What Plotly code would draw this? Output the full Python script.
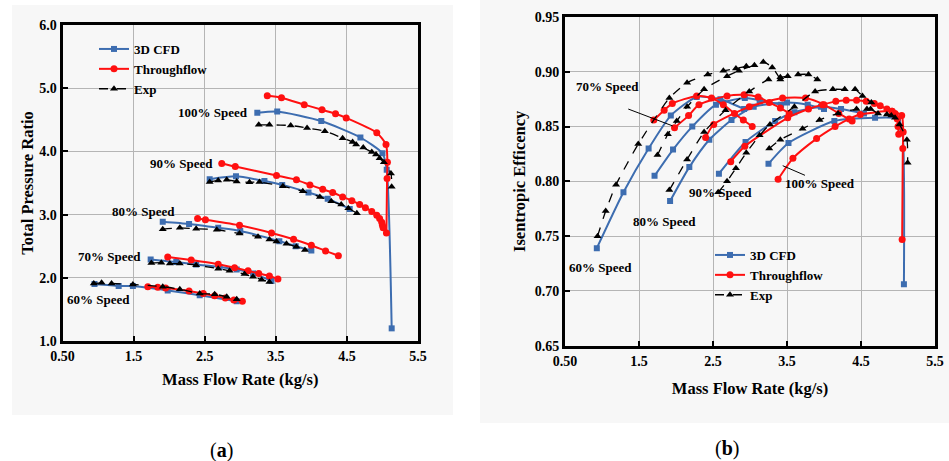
import plotly.graph_objects as go

# ---------------- Panel (a): total pressure ratio ----------------
speeds = ["60%", "70%", "80%", "90%", "100%"]

cfd_pr_x = {
    "60%": [0.95, 1.29, 1.49, 1.98, 2.43, 2.95],
    "70%": [1.74, 2.10, 2.38, 2.71, 2.95, 3.18, 3.44],
    "80%": [1.91, 2.28, 2.69, 3.00, 3.55, 3.78, 4.00],
    "90%": [2.57, 2.94, 3.34, 3.59, 3.96, 4.23, 4.54],
    "100%": [3.24, 3.52, 4.14, 4.69, 5.00, 5.06, 5.13],
}
cfd_pr_y = {
    "60%": [1.90, 1.87, 1.87, 1.80, 1.725, 1.63],
    "70%": [2.29, 2.25, 2.21, 2.17, 2.13, 2.07, 1.95],
    "80%": [2.885, 2.85, 2.79, 2.74, 2.58, 2.50, 2.43],
    "90%": [3.56, 3.605, 3.53, 3.47, 3.35, 3.25, 3.09],
    "100%": [4.61, 4.63, 4.48, 4.22, 3.97, 3.71, 1.20],
}
tf_pr_x = {
    "60%": [1.70, 1.84, 1.95, 2.28, 2.48, 2.64, 2.79, 2.91, 3.03],
    "70%": [1.98, 2.31, 2.69, 2.92, 3.11, 3.26, 3.41, 3.53],
    "80%": [2.40, 2.51, 2.99, 3.44, 3.75, 4.00, 4.20, 4.38],
    "90%": [2.74, 2.93, 3.51, 3.79, 3.98, 4.16, 4.30, 4.44, 4.57, 4.68, 4.76, 4.85, 4.92, 4.96, 4.99, 5.00, 5.01],
    "100%": [3.38, 3.58, 3.90, 4.15, 4.34, 4.49, 4.92, 5.05, 5.07, 5.065, 5.056],
}
tf_pr_y = {
    "60%": [1.86, 1.85, 1.84, 1.79, 1.75, 1.715, 1.68, 1.65, 1.63],
    "70%": [2.33, 2.28, 2.215, 2.16, 2.11, 2.07, 2.03, 1.98],
    "80%": [2.94, 2.92, 2.83, 2.71, 2.61, 2.515, 2.425, 2.35],
    "90%": [3.81, 3.76, 3.62, 3.55, 3.47, 3.40, 3.35, 3.28, 3.22, 3.16, 3.11, 3.05, 2.99, 2.94, 2.88, 2.83, 2.79],
    "100%": [4.88, 4.85, 4.74, 4.66, 4.595, 4.53, 4.295, 4.11, 3.83, 3.57, 2.71],
}
exp_pr_x = {
    "60%": [0.94, 1.05, 1.19, 1.49, 1.91, 2.15, 2.43, 2.64, 2.81, 2.95],
    "70%": [1.75, 1.89, 2.01, 2.15, 2.38, 2.69, 2.85, 3.06, 3.18, 3.30, 3.41],
    "80%": [1.91, 2.15, 2.38, 2.67, 2.99, 3.25, 3.41, 3.51, 3.65, 3.79, 3.91],
    "90%": [2.57, 2.69, 2.81, 2.95, 3.13, 3.27, 3.60, 3.88, 4.12, 4.28, 4.42, 4.52, 4.64],
    "100%": [3.26, 3.41, 3.71, 3.94, 4.19, 4.44, 4.58, 4.63, 4.73, 4.85, 4.91, 4.96, 5.02, 5.12, 5.13],
}
exp_pr_y = {
    "60%": [1.91, 1.92, 1.91, 1.895, 1.86, 1.82, 1.75, 1.74, 1.70, 1.66],
    "70%": [2.235, 2.24, 2.225, 2.225, 2.20, 2.145, 2.11, 2.06, 2.015, 1.97, 1.935],
    "80%": [2.77, 2.79, 2.775, 2.76, 2.70, 2.65, 2.605, 2.575, 2.54, 2.49, 2.44],
    "90%": [3.515, 3.54, 3.55, 3.525, 3.51, 3.515, 3.45, 3.37, 3.28, 3.21, 3.16, 3.10, 3.02],
    "100%": [4.42, 4.42, 4.41, 4.37, 4.32, 4.21, 4.15, 4.11, 4.06, 3.99, 3.95, 3.89, 3.83, 3.65, 3.44],
}

# ---------------- Panel (b): isentropic efficiency ----------------
cfd_eff_x = {
    "60%": [0.93, 1.29, 1.63, 1.93, 2.28, 2.60, 2.92],
    "70%": [1.71, 1.96, 2.22, 2.54, 2.93, 3.13, 3.42],
    "80%": [1.92, 2.18, 2.45, 2.75, 3.05, 3.50, 3.78, 4.00],
    "90%": [2.58, 2.94, 3.34, 3.60, 3.96, 4.23, 4.54],
    "100%": [3.25, 3.52, 4.14, 4.69, 5.00, 5.06, 5.08],
}
cfd_eff_y = {
    "60%": [0.739, 0.790, 0.830, 0.860, 0.877, 0.875, 0.866],
    "70%": [0.805, 0.829, 0.850, 0.870, 0.876, 0.874, 0.870],
    "80%": [0.782, 0.813, 0.838, 0.856, 0.868, 0.872, 0.870, 0.866],
    "90%": [0.807, 0.836, 0.855, 0.863, 0.868, 0.866, 0.862],
    "100%": [0.816, 0.835, 0.855, 0.858, 0.857, 0.845, 0.706],
}
tf_eff_x = {
    "60%": [1.70, 1.84, 1.95, 2.28, 2.48, 2.64, 2.79, 2.91, 3.03],
    "70%": [1.98, 2.17, 2.31, 2.69, 2.92, 3.11, 3.26, 3.41, 3.53],
    "80%": [2.40, 2.51, 2.99, 3.44, 3.75, 4.00, 4.20, 4.38],
    "90%": [2.74, 2.93, 3.51, 3.79, 3.98, 4.16, 4.30, 4.44, 4.57, 4.68, 4.76, 4.85, 4.92, 4.96, 4.99, 5.00, 5.01],
    "100%": [3.38, 3.58, 3.90, 4.15, 4.34, 4.49, 4.92, 5.05, 5.07, 5.065, 5.056],
}
tf_eff_y = {
    "60%": [0.856, 0.865, 0.871, 0.878, 0.876, 0.870, 0.862, 0.856, 0.850],
    "70%": [0.849, 0.860, 0.870, 0.878, 0.879, 0.877, 0.872, 0.867, 0.862],
    "80%": [0.840, 0.852, 0.868, 0.876, 0.876, 0.870, 0.862, 0.855],
    "90%": [0.818, 0.832, 0.858, 0.866, 0.870, 0.873, 0.874, 0.874, 0.873, 0.871, 0.869, 0.866, 0.864, 0.862, 0.857, 0.850, 0.843],
    "100%": [0.802, 0.821, 0.839, 0.850, 0.857, 0.861, 0.864, 0.860, 0.845, 0.830, 0.747],
}
exp_eff_x = exp_pr_x
exp_eff_y = {
    "60%": [0.750, 0.773, 0.797, 0.834, 0.876, 0.890, 0.8975, 0.901, 0.903, 0.905],
    "70%": [0.824, 0.843, 0.855, 0.868, 0.884, 0.896, 0.901, 0.906, 0.909, 0.904, 0.893],
    "80%": [0.792, 0.820, 0.845, 0.865, 0.882, 0.893, 0.895, 0.896, 0.8975, 0.8975, 0.893],
    "90%": [0.790, 0.800, 0.812, 0.826, 0.842, 0.852, 0.868, 0.882, 0.884, 0.884, 0.884, 0.878, 0.872],
    "100%": [0.830, 0.838, 0.848, 0.856, 0.862, 0.866, 0.866, 0.866, 0.862, 0.861, 0.860, 0.858, 0.852, 0.838, 0.817],
}

x_ticks = [0.5, 1.5, 2.5, 3.5, 4.5, 5.5]
x_ticktext = ["0.50", "1.5", "2.5", "3.5", "4.5", "5.5"]
pr_ticks = [1.0, 2.0, 3.0, 4.0, 5.0, 6.0]
eff_ticks = [0.65, 0.70, 0.75, 0.80, 0.85, 0.90, 0.95]

BLUE = "#3D6DB0"
RED = "#FF1010"
FONT = "Liberation Serif"

fig = go.Figure()

def add_series(xd, yd, name, color, symbol, msize, dash, xa, ya, legend):
    for i, s in enumerate(speeds):
        fig.add_trace(go.Scatter(
            x=xd[s], y=yd[s], mode="lines+markers", name=name,
            line=dict(color=color, width=2 if dash == "solid" else 1.3,
                      dash=dash, shape="spline", smoothing=0.6),
            marker=dict(symbol=symbol, size=msize, color=color),
            xaxis=xa, yaxis=ya, legend=legend, legendgroup=legend + name,
            showlegend=(i == 0),
        ))

add_series(cfd_pr_x, cfd_pr_y, "3D CFD", BLUE, "square", 6, "solid", "x", "y", "legend")
add_series(tf_pr_x, tf_pr_y, "Throughflow", RED, "circle", 7, "solid", "x", "y", "legend")
add_series(exp_pr_x, exp_pr_y, "Exp", "black", "triangle-up", 7, "dash", "x", "y", "legend")
add_series(cfd_eff_x, cfd_eff_y, "3D CFD", BLUE, "square", 6, "solid", "x2", "y2", "legend2")
add_series(tf_eff_x, tf_eff_y, "Throughflow", RED, "circle", 7, "solid", "x2", "y2", "legend2")
add_series(exp_eff_x, exp_eff_y, "Exp", "black", "triangle-up", 7, "dash", "x2", "y2", "legend2")

W, H = 949, 461
def px(xp):
    return xp / W
def py(yp):
    return 1 - yp / H

tickfont = dict(family=FONT, size=14, color="black", weight="bold")
axis_common = dict(
    showline=True, linecolor="black", linewidth=3, mirror=True,
    showgrid=True, gridcolor="#b5b5b5", gridwidth=1,
    ticks="inside", ticklen=5, tickwidth=2, tickcolor="black",
    tickfont=tickfont, zeroline=False, automargin=False,
)
titlefont = dict(family=FONT, size=16.5, color="black", weight="bold")

fig.update_layout(
    width=W, height=H, margin=dict(l=0, r=0, t=0, b=0),
    paper_bgcolor="white", plot_bgcolor="white",
    xaxis=dict(domain=[px(62.5), px(418)], range=[0.5, 5.5], tickvals=x_ticks, ticktext=x_ticktext,
               title=dict(text="Mass Flow Rate (kg/s)", font=titlefont, standoff=11), anchor="y", **axis_common),
    yaxis=dict(domain=[py(341), py(25)], range=[1, 6], tickvals=pr_ticks, tickformat=".1f",
               title=dict(text="Total Pressure Ratio", font=titlefont, standoff=2), anchor="x", **axis_common),
    xaxis2=dict(domain=[px(565), px(935)], range=[0.5, 5.5], tickvals=x_ticks, ticktext=x_ticktext,
                title=dict(text="Mass Flow Rate (kg/s)", font=titlefont, standoff=15), anchor="y2", **axis_common),
    yaxis2=dict(domain=[py(345.7), py(17)], range=[0.65, 0.95], tickvals=eff_ticks, tickformat=".2f",
                title=dict(text="Isentropic Efficency", font=titlefont, standoff=5), anchor="x2", **axis_common),
    legend=dict(x=px(94), y=py(34), xanchor="left", yanchor="top", bgcolor="rgba(0,0,0,0)",
                font=dict(family=FONT, size=13, color="black", weight="bold"), tracegroupgap=0),
    legend2=dict(x=px(710), y=py(240), xanchor="left", yanchor="top", bgcolor="rgba(0,0,0,0)",
                 font=dict(family=FONT, size=13, color="black", weight="bold"), tracegroupgap=0),
    showlegend=True,
)

# panel backgrounds
fig.add_shape(type="rect", xref="paper", yref="paper", x0=px(12), x1=px(453), y0=py(415), y1=py(5),
              fillcolor="#f7f7f7", line=dict(width=0), layer="below")
fig.add_shape(type="rect", xref="paper", yref="paper", x0=px(480), x1=px(949), y0=py(423), y1=py(0),
              fillcolor="#f7f7f7", line=dict(width=0), layer="below")

lab = dict(family=FONT, size=13, color="black", weight="bold")
ann_a = [("100% Speed", 2.617, 4.608), ("90% Speed", 2.18, 3.816), ("80% Speed", 1.646, 3.057),
         ("70% Speed", 1.168, 2.33), ("60% Speed", 1.013, 1.649)]
for t, xx, yy in ann_a:
    fig.add_annotation(text=t, x=xx, y=yy, xref="x", yref="y", showarrow=False, font=lab,
                       xanchor="center", yanchor="middle")
ann_b = [("70% Speed", 1.081, 0.887), ("80% Speed", 1.851, 0.763), ("90% Speed", 2.595, 0.7894),
         ("100% Speed", 3.946, 0.7976), ("60% Speed", 0.986, 0.721)]
for t, xx, yy in ann_b:
    fig.add_annotation(text=t, x=xx, y=yy, xref="x2", yref="y2", showarrow=False, font=lab,
                       xanchor="center", yanchor="middle")
fig.add_shape(type="line", xref="x2", yref="y2", x0=1.355, y0=0.866, x1=1.955, y1=0.8506,
              line=dict(color="black", width=1))
fig.add_shape(type="line", xref="x2", yref="y2", x0=3.442, y0=0.8143, x1=3.743, y1=0.8055,
              line=dict(color="black", width=1))

fig.add_annotation(text="(<b>a</b>)", x=px(221), y=py(450), xref="paper", yref="paper", showarrow=False,
                   xanchor="center", yanchor="middle", font=dict(family=FONT, size=20, color="black"))
fig.add_annotation(text="(<b>b</b>)", x=px(727), y=py(448), xref="paper", yref="paper", showarrow=False,
                   xanchor="center", yanchor="middle", font=dict(family=FONT, size=20, color="black"))

fig.write_html("out.html")
